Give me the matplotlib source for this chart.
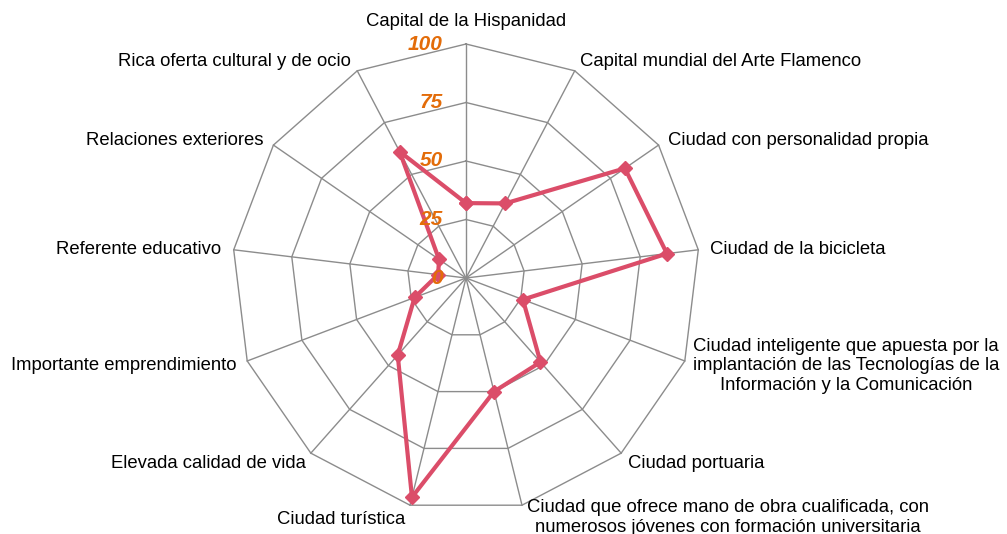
import numpy as np
import matplotlib
matplotlib.use("Agg")
import matplotlib.pyplot as plt

plt.rcParams["font.family"] = ["Liberation Sans", "DejaVu Sans"]

categories = [
    "Capital de la Hispanidad",
    "Capital mundial del Arte Flamenco",
    "Ciudad con personalidad propia",
    "Ciudad de la bicicleta",
    "Ciudad inteligente que apuesta por la\nimplantación de las Tecnologías de la\nInformación y la Comunicación",
    "Ciudad portuaria",
    "Ciudad que ofrece mano de obra cualificada, con\nnumerosos jóvenes con formación universitaria",
    "Ciudad turística",
    "Elevada calidad de vida",
    "Importante emprendimiento",
    "Referente educativo",
    "Relaciones exteriores",
    "Rica oferta cultural y de ocio",
]
values = [32, 36, 82.5, 86.5, 26, 48, 50, 96.5, 44, 23.5, 12, 14, 61]
ring_ticks = [0, 25, 50, 75, 100]

LINE = "#DB4D69"
GRID = "#8C8C8C"
TICK = "#E36C09"

W, H, DPI = 1007, 534, 100
CX, CY = 466, 278          # centre in px
SCALE = 2.34               # px per unit

fig = plt.figure(figsize=(W / DPI, H / DPI), dpi=DPI)
ax = fig.add_axes([0, 0, 1, 1])
ax.set_xlim(-CX / SCALE, (W - CX) / SCALE)
ax.set_ylim(-(H - CY) / SCALE, CY / SCALE)
ax.axis("off")

n = len(categories)
ang = np.arange(n) * 2 * np.pi / n
sx, sy = np.sin(ang), np.cos(ang)

# grid rings + spokes
for r in ring_ticks[1:]:
    ax.plot(np.append(r * sx, r * sx[0]), np.append(r * sy, r * sy[0]),
            color=GRID, lw=1, zorder=1)
for i in range(n):
    ax.plot([0, 100 * sx[i]], [0, 100 * sy[i]], color=GRID, lw=1, zorder=1)

# series
v = np.array(values)
ax.plot(np.append(v * sx, v[0] * sx[0]), np.append(v * sy, v[0] * sy[0]),
        color=LINE, lw=3, marker="D", ms=7, zorder=3)

# category labels
offsets = [(0, 23), (5, 9), (9, 5), (12, 0), (8, -5), (7, -10), (5, -12),
           (-5, -14), (-5, -10), (-11, -5), (-13, 0), (-10, 5), (-6, 9)]
for i, lab in enumerate(categories):
    if i == 0:
        ha = "center"
    elif sx[i] > 0:
        ha = "left"
    else:
        ha = "right"
    dx, dy = offsets[i]
    ax.annotate(lab, (100 * sx[i], 100 * sy[i]),
                xytext=(dx * 72 / DPI, dy * 72 / DPI), textcoords="offset points",
                ha=ha, va="center", multialignment="center",
                fontsize=13.3, color="black", zorder=4)

# radial tick labels
for r in ring_ticks:
    ax.text(-10, r, str(r), ha="right", va="center", fontsize=15,
            fontweight="bold", fontstyle="italic", color=TICK, zorder=5)

fig.savefig("out.png", dpi=DPI, facecolor="white")
